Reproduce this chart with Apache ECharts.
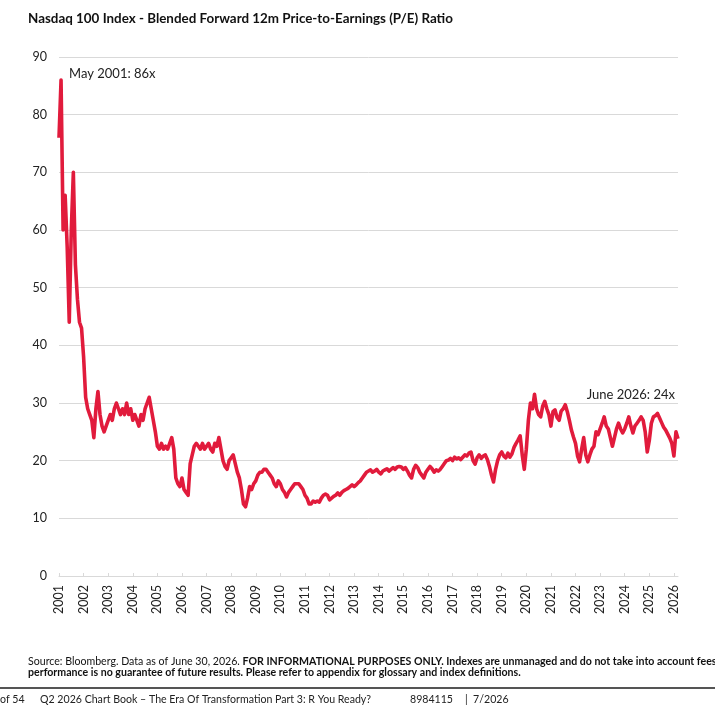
<!DOCTYPE html>
<html>
<head>
<meta charset="utf-8">
<script src="https://cdn.jsdelivr.net/npm/echarts@6/dist/echarts.min.js"></script>
<style>
  html, body { margin: 0; padding: 0; background: #fff; }
  #chart { width: 715px; height: 709px; }
</style>
</head>
<body>
<div id="chart"></div>
<script>
// monthly blended forward 12m P/E, Apr 2001 - Jun 2026
const startYear = 2001;
const startMonth = 4;
const peRatio = [
  76, 86, 60, 66, 57, 44, 60, 70, 54, 48, 44, 43, 38, 31, 29, 28, 27, 24,
  29, 32, 28, 26, 25, 26, 27, 28, 27, 29, 30, 29, 28, 29, 28, 30, 28, 29, 27, 28, 27, 26, 28, 27, 29, 30, 31, 29, 27, 25,
  22.5, 22, 23, 22, 22.5, 22, 23, 24, 22, 17, 16, 15.5, 17, 15, 14.5, 14,
  19.5, 21, 22.5, 23, 22.5, 22, 23, 22, 22.5, 23, 22, 21.5, 23, 22.5, 24, 22,
  20, 19, 18.5, 20, 20.5, 21, 19.5, 18, 17, 15, 12.5, 12, 13.5, 15.5, 15, 16,
  16.5, 17.5, 18, 18, 18.5, 18.5, 18, 17.5, 17, 16, 15.5, 16.5, 16, 15, 14.5, 13.7,
  14.5, 15, 15.5, 16, 16, 16, 15.5, 15, 14, 13.5, 12.5, 12.5, 13, 12.8, 13, 12.8,
  13.5, 14, 14.2, 14, 13.2, 13.5, 13.8, 14, 14.4, 14, 14.5, 14.8, 15, 15.2, 15.5, 15.8,
  15.5, 15.8, 16.2, 16.5, 17, 17.5, 18, 18.2, 18.4, 18, 18.2, 18.5, 18, 17.7, 18.2, 18.4,
  18.6, 18.2, 18.5, 18.8, 18.5, 18.9, 19, 18.9, 18.5, 18.8, 18.2, 17.5, 17, 18.5, 19.2, 18.8,
  18, 17.5, 17, 18, 18.5, 19, 18.6, 18, 18.4, 18.2, 18.5, 19, 19.5, 20, 20.1, 20.4,
  20, 20.6, 20.3, 20.5, 20.2, 20.6, 21, 20.8, 21.3, 21.5, 20, 19.4, 20.5, 21, 20.4, 20.8,
  21, 20.2, 19, 17.5, 16.3, 18.5, 20, 21, 21.5, 20.8, 20.5, 21.3, 20.6, 21.2, 22.3, 23,
  23.6, 24.3, 21, 18.5, 22, 27, 30, 29, 31.5, 29, 28, 27.6, 29.5, 30.3, 29, 28,
  26, 28.5, 28.8, 27.5, 27, 28.6, 29, 29.7, 28.5, 27, 25.3, 24.1, 23, 20.8, 19.8, 22,
  24, 21, 19.8, 21, 22, 22.5, 25, 24.5, 25.5, 26.5, 27.6, 26, 25.5, 24, 22.5, 24,
  25.5, 26.5, 25.5, 24.8, 25.5, 26.5, 27.6, 26, 24.8, 26, 26.5, 27, 27.6, 27, 25, 21.5,
  23.5, 26.5, 27.6, 27.8, 28.2, 27.4, 26.6, 25.8, 25.3, 24.6, 23.9, 23, 20.8, 25, 23.8
];
const months = peRatio.map((v, i) => {
  const m = startMonth - 1 + i;
  const y = startYear + Math.floor(m / 12);
  return y + '-' + String(m % 12 + 1).padStart(2, '0');
});
const yTicks = [0, 90, 10]; // min, max, step
const notes = [
  { at: '2001-05', value: 86, text: 'May 2001: 86x' },
  { at: '2026-06', value: 24, text: 'June 2026: 24x' }
];

const FONT = 'Lato, "Open Sans", sans-serif';
const chart = echarts.init(document.getElementById('chart'), null, { renderer: 'canvas' });

chart.setOption({
  backgroundColor: '#fff',
  animation: false,
  textStyle: { fontFamily: FONT },
  grid: { left: 59, right: 37, top: 57, bottom: 133 },
  xAxis: {
    type: 'category',
    data: months,
    boundaryGap: false,
    axisLine: { lineStyle: { color: '#d9d9d9', width: 1 } },
    axisTick: { show: true, inside: true, length: 3, interval: 11, lineStyle: { color: '#d9d9d9' } },
    axisLabel: {
      interval: 11,
      rotate: 90,
      margin: 9,
      color: '#222',
      fontSize: 12.5,
      fontFamily: FONT,
      formatter: v => v.slice(0, 4)
    },
    splitLine: { show: false }
  },
  yAxis: {
    type: 'value',
    min: yTicks[0],
    max: yTicks[1],
    interval: yTicks[2],
    axisLine: { show: false },
    axisTick: { show: false },
    axisLabel: { color: '#222', fontSize: 12.5, fontFamily: FONT, margin: 12 },
    splitLine: { lineStyle: { color: '#d9d9d9', width: 1 } }
  },
  series: [{
    type: 'line',
    data: peRatio,
    symbol: 'none',
    lineStyle: { color: '#E11B3C', width: 3.6, join: 'round' },
    markPoint: {
      symbol: 'circle',
      symbolSize: 0,
      label: { show: true, color: '#222', fontSize: 13, fontFamily: FONT },
      data: [
        { coord: [notes[0].at, notes[0].value], label: { formatter: notes[0].text, position: 'right', offset: [3, -6] } },
        { coord: [notes[1].at, notes[1].value], label: { formatter: notes[1].text, position: 'left', offset: [2, -43] } }
      ]
    }
  }],
  graphic: [
    {
      type: 'text', left: 28, top: 12,
      style: {
        text: 'Nasdaq 100 Index - Blended Forward 12m Price-to-Earnings (P/E) Ratio',
        fontFamily: FONT, fontWeight: 'bold', fontSize: 13.4, fill: '#111'
      }
    },
    {
      type: 'text', left: 28, top: 656,
      style: {
        text: '{n|Source: Bloomberg. Data as of June 30, 2026. }{b|FOR INFORMATIONAL PURPOSES ONLY. Indexes are unmanaged and do not take into account fees, expenses or sales charges. Past}\n{b|performance is no guarantee of future results. Please refer to appendix for glossary and index definitions.}',
        fontFamily: FONT, fontSize: 10.6, fill: '#111', lineHeight: 11,
        rich: {
          n: { fontFamily: FONT, fontSize: 10.6, fill: '#111', lineHeight: 11 },
          b: { fontFamily: FONT, fontSize: 10.6, fontWeight: 'bold', fill: '#111', lineHeight: 11 }
        }
      }
    },
    {
      type: 'rect', left: 0, top: 687,
      shape: { width: 715, height: 2 },
      style: { fill: '#555' }
    },
    {
      type: 'text', left: 0, top: 694,
      style: { text: 'of 54', fontFamily: FONT, fontSize: 10.6, fill: '#222' }
    },
    {
      type: 'text', left: 40, top: 694,
      style: { text: 'Q2 2026 Chart Book \u2013 The Era Of Transformation Part 3: R You Ready?', fontFamily: FONT, fontSize: 10.6, fill: '#222' }
    },
    {
      type: 'text', left: 410, top: 694,
      style: { text: '8984115', fontFamily: FONT, fontSize: 10.6, fill: '#222' }
    },
    {
      type: 'text', left: 465, top: 694,
      style: { text: '|  7/2026', fontFamily: FONT, fontSize: 10.6, fill: '#222' }
    }
  ]
});
</script>
</body>
</html>
